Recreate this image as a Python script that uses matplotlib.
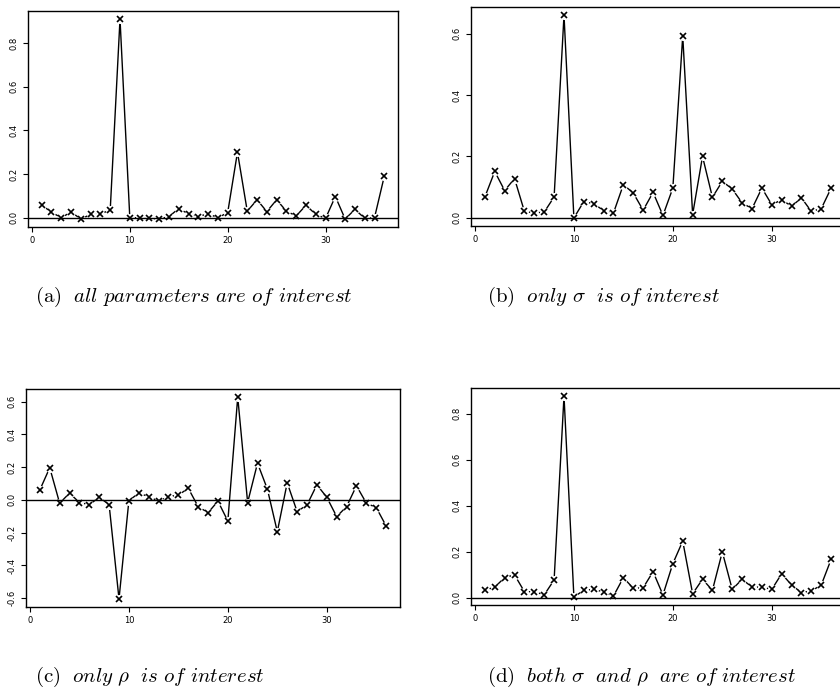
import numpy as np
import matplotlib
matplotlib.use("Agg")
import matplotlib.pyplot as plt

plt.rcParams['mathtext.fontset'] = 'cm'

# index 1..36
idx = np.arange(1, 37)

# (a) all parameters
vals_a = [0.058, 0.025, 0.0, 0.026, -0.006, 0.015, 0.017, 0.035, 0.91, 0.0,
          0.0, -0.003, -0.006, 0.005, 0.042, 0.017, 0.005, 0.018, 0.0, 0.023,
          0.30, 0.03, 0.082, 0.028, 0.082, 0.03, 0.008, 0.057, 0.015, -0.003,
          0.097, -0.006, 0.038, -0.003, 0.0, 0.19]
# (b) only sigma
vals_b = [0.068, 0.151, 0.089, 0.128, 0.021, 0.016, 0.019, 0.068, 0.66, 0.0,
          0.053, 0.046, 0.024, 0.016, 0.108, 0.081, 0.025, 0.083, 0.008, 0.097,
          0.592, 0.011, 0.2, 0.067, 0.119, 0.094, 0.049, 0.030, 0.097, 0.043,
          0.059, 0.038, 0.065, 0.021, 0.030, 0.097]
# (c) only rho
vals_c = [0.061, 0.196, -0.02, 0.041, -0.016, -0.029, 0.016, -0.029, -0.604, -0.004,
          0.041, 0.02, -0.008, 0.02, 0.029, 0.071, -0.041, -0.078, -0.008, -0.129,
          0.627, -0.016, 0.224, 0.065, -0.194, 0.104, -0.071, -0.031, 0.092, 0.016,
          -0.102, -0.041, 0.086, -0.02, -0.047, -0.159]
# (d) both sigma and rho
vals_d = [0.032, 0.046, 0.087, 0.099, 0.026, 0.026, 0.012, 0.077, 0.877, 0.003,
          0.032, 0.036, 0.025, 0.007, 0.087, 0.041, 0.043, 0.113, 0.012, 0.148,
          0.246, 0.017, 0.08, 0.032, 0.199, 0.036, 0.08, 0.046, 0.046, 0.036,
          0.104, 0.055, 0.022, 0.029, 0.055, 0.167]

captions = [
    r"$\mathrm{(a)}\ \ \mathit{all\ parameters\ are\ of\ interest}$",
    r"$\mathrm{(b)}\ \ \mathit{only}\ \sigma\ \ \mathit{is\ of\ interest}$",
    r"$\mathrm{(c)}\ \ \mathit{only}\ \rho\ \ \mathit{is\ of\ interest}$",
    r"$\mathrm{(d)}\ \ \mathit{both}\ \sigma\ \ \mathit{and}\ \rho\ \ \mathit{are\ of\ interest}$",
]
yticks = [
    [0.0, 0.2, 0.4, 0.6, 0.8],
    [0.0, 0.2, 0.4, 0.6],
    [-0.6, -0.4, -0.2, 0.0, 0.2, 0.4, 0.6],
    [0.0, 0.2, 0.4, 0.6, 0.8],
]

W, H = 840, 695
fig = plt.figure(figsize=(W / 100, H / 100), dpi=100)

# axes boxes in pixels: left, right, top, bottom
boxes = [(28, 398, 11, 227), (471, 845, 7, 226),
         (26, 400, 389, 607), (471, 845, 388, 605)]
cap_pos = [(35, 297), (487, 297), (35, 677), (487, 677)]

for k, vals in enumerate([vals_a, vals_b, vals_c, vals_d]):
    l, r, t, b = boxes[k]
    ax = fig.add_axes([l / W, 1 - b / H, (r - l) / W, (b - t) / H])
    ax.plot(idx, vals, color='black', lw=1.0, zorder=2)
    # gaps around points like R type="b"
    ax.plot(idx, vals, ls='none', marker='o', ms=6.5, mfc='white', mec='none', zorder=3)
    ax.axhline(0, color='black', lw=1.0, zorder=4)
    ax.plot(idx, vals, ls='none', marker='x', ms=3.8, mew=1.2, color='black', zorder=5)
    lo, hi = min(vals), max(vals)
    pad = 0.04 * (hi - lo)
    ax.set_ylim(lo - pad, hi + pad)
    ax.set_xlim(1 - 0.04 * 35, 36 + 0.04 * 35)
    ax.set_xticks([0, 10, 20, 30])
    ax.set_yticks(yticks[k])
    ax.set_yticklabels([f"{v:.1f}" for v in yticks[k]], rotation=90, va='center')
    ax.tick_params(direction='out', length=3.5, width=0.8, labelsize=6, pad=3)
    for s in ax.spines.values():
        s.set_linewidth(1.0)
    fig.text(cap_pos[k][0] / W, 1 - cap_pos[k][1] / H, captions[k],
             fontsize=15, ha='left', va='center')

fig.savefig("out.png", dpi=100)
